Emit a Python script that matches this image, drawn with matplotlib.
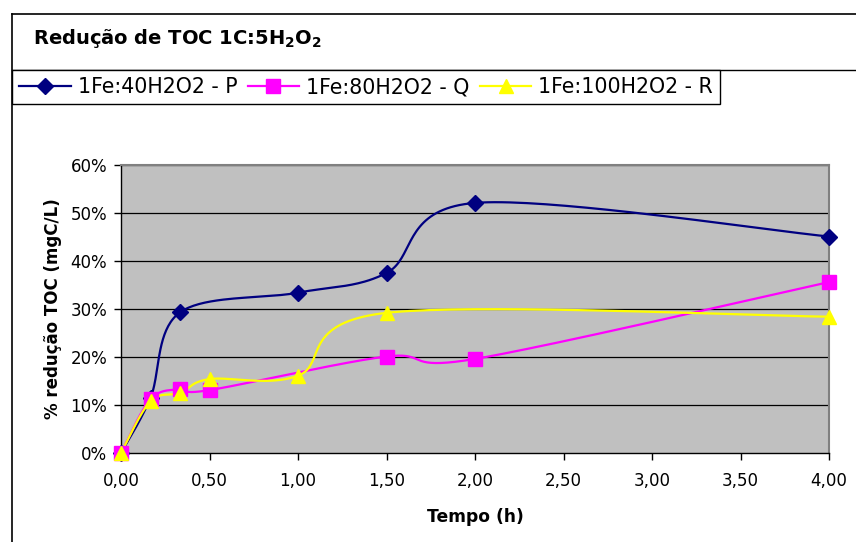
import matplotlib
matplotlib.use("Agg")
import matplotlib.pyplot as plt
import numpy as np
from matplotlib.lines import Line2D
from matplotlib.ticker import FuncFormatter, MultipleLocator

plt.rcParams['font.family'] = ['DejaVu Sans']

title = "Redução de TOC 1C:5H$_\\mathbf{2}$O$_\\mathbf{2}$"
x_label = "Tempo (h)"
y_label = "% redução TOC (mgC/L)"

t_p = [0, 0.1667, 0.3333, 1.0, 1.5, 2.0, 4.0]
red_p = [0, 0.115, 0.293, 0.334, 0.375, 0.521, 0.451]

t_q = [0, 0.1667, 0.3333, 0.5, 1.5, 2.0, 4.0]
red_q = [0, 0.112, 0.133, 0.131, 0.201, 0.196, 0.356]

t_r = [0, 0.1667, 0.3333, 0.5, 1.0, 1.5, 4.0]
red_r = [0, 0.108, 0.125, 0.154, 0.161, 0.292, 0.284]

names = ["1Fe:40H2O2 - P", "1Fe:80H2O2 - Q", "1Fe:100H2O2 - R"]
colors = ["#000080", "#FF00FF", "#FFFF00"]
markers = ["D", "s", "^"]
msizes = [8, 10, 10]

W, H = 856, 542
fig = plt.figure(figsize=(W / 100, H / 100), dpi=100)

# plot area in pixels
left, right, top, bottom = 121, 829, 165, 453
ax = fig.add_axes([left / W, 1 - bottom / H, (right - left) / W, (bottom - top) / H])
ax.set_facecolor("#C0C0C0")
ax.set_xlim(0, 4)
ax.set_ylim(0, 0.6)

sx = (right - left) / 4.0
sy = (bottom - top) / 0.6


def smooth(xs, ys, n=40):
    # Excel-like bezier smoothing, done in pixel space
    px = np.array(xs) * sx
    py = np.array(ys) * sy
    outx, outy = [px[0]], [py[0]]
    m = len(px)
    for i in range(m - 1):
        p0 = (px[max(i - 1, 0)], py[max(i - 1, 0)])
        p1 = (px[i], py[i])
        p2 = (px[i + 1], py[i + 1])
        p3 = (px[min(i + 2, m - 1)], py[min(i + 2, m - 1)])
        c1 = (p1[0] + (p2[0] - p0[0]) / 6, p1[1] + (p2[1] - p0[1]) / 6)
        c2 = (p2[0] - (p3[0] - p1[0]) / 6, p2[1] - (p3[1] - p1[1]) / 6)
        s = np.linspace(0, 1, n)[1:]
        bx = (1 - s) ** 3 * p1[0] + 3 * (1 - s) ** 2 * s * c1[0] + 3 * (1 - s) * s ** 2 * c2[0] + s ** 3 * p2[0]
        by = (1 - s) ** 3 * p1[1] + 3 * (1 - s) ** 2 * s * c1[1] + 3 * (1 - s) * s ** 2 * c2[1] + s ** 3 * p2[1]
        outx.extend(bx)
        outy.extend(by)
    return np.array(outx) / sx, np.array(outy) / sy


for y in np.arange(0.1, 0.61, 0.1):
    ax.axhline(y, color="black", lw=0.9, zorder=1)

series = [(t_p, red_p), (t_q, red_q), (t_r, red_r)]
handles = []
for (tx, ry), name, c, mk, ms in zip(series, names, colors, markers, msizes):
    cx, cy = smooth(tx, ry)
    ax.plot(cx, cy, color=c, lw=1.6, zorder=3, clip_on=False)
    ax.plot(tx, ry, linestyle="none", marker=mk, color=c, markersize=ms,
            markeredgecolor=c, zorder=4, clip_on=False)
    handles.append(Line2D([], [], color=c, lw=1.6, marker=mk, markersize=ms, markeredgecolor=c))

for s in ["top", "right"]:
    ax.spines[s].set_color("#808080")
    ax.spines[s].set_linewidth(1.5)
for s in ["left", "bottom"]:
    ax.spines[s].set_color("black")
    ax.spines[s].set_linewidth(1.0)

ax.xaxis.set_major_locator(MultipleLocator(0.5))
ax.yaxis.set_major_locator(MultipleLocator(0.1))
ax.xaxis.set_major_formatter(FuncFormatter(lambda v, p: f"{v:.2f}".replace(".", ",")))
ax.yaxis.set_major_formatter(FuncFormatter(lambda v, p: f"{v * 100:.0f}%"))
ax.tick_params(axis="both", direction="out", length=5, width=1, color="black",
               labelsize=12, pad=5)
ax.tick_params(axis="x", pad=9)

ax.set_xlabel(x_label, fontsize=12.3, fontweight="bold", labelpad=13)
ax.set_ylabel(y_label, fontsize=12, fontweight="bold", labelpad=6)

# chart frame (cropped on the right and bottom)
fig.add_artist(Line2D([12 / W, 1], [1 - 14 / H] * 2, color="black", lw=1.2))
fig.add_artist(Line2D([12 / W] * 2, [1 - 14 / H, 0], color="black", lw=1.2))
fig.add_artist(Line2D([12 / W, 1], [1 - 70 / H] * 2, color="black", lw=1.0))

fig.text(33 / W, 1 - 39 / H, title, fontsize=14, fontweight="bold", va="center", ha="left")

leg = fig.legend(handles, names, loc="upper left", bbox_to_anchor=(12 / W, 1 - 70 / H),
                 ncol=3, fontsize=14.8, frameon=True, fancybox=False, borderaxespad=0,
                 handlelength=2.5, handletextpad=0.35, columnspacing=0.5,
                 borderpad=0.35, framealpha=1)
leg.get_frame().set_edgecolor("black")
leg.get_frame().set_linewidth(1.0)

fig.savefig("out.png", dpi=100)
